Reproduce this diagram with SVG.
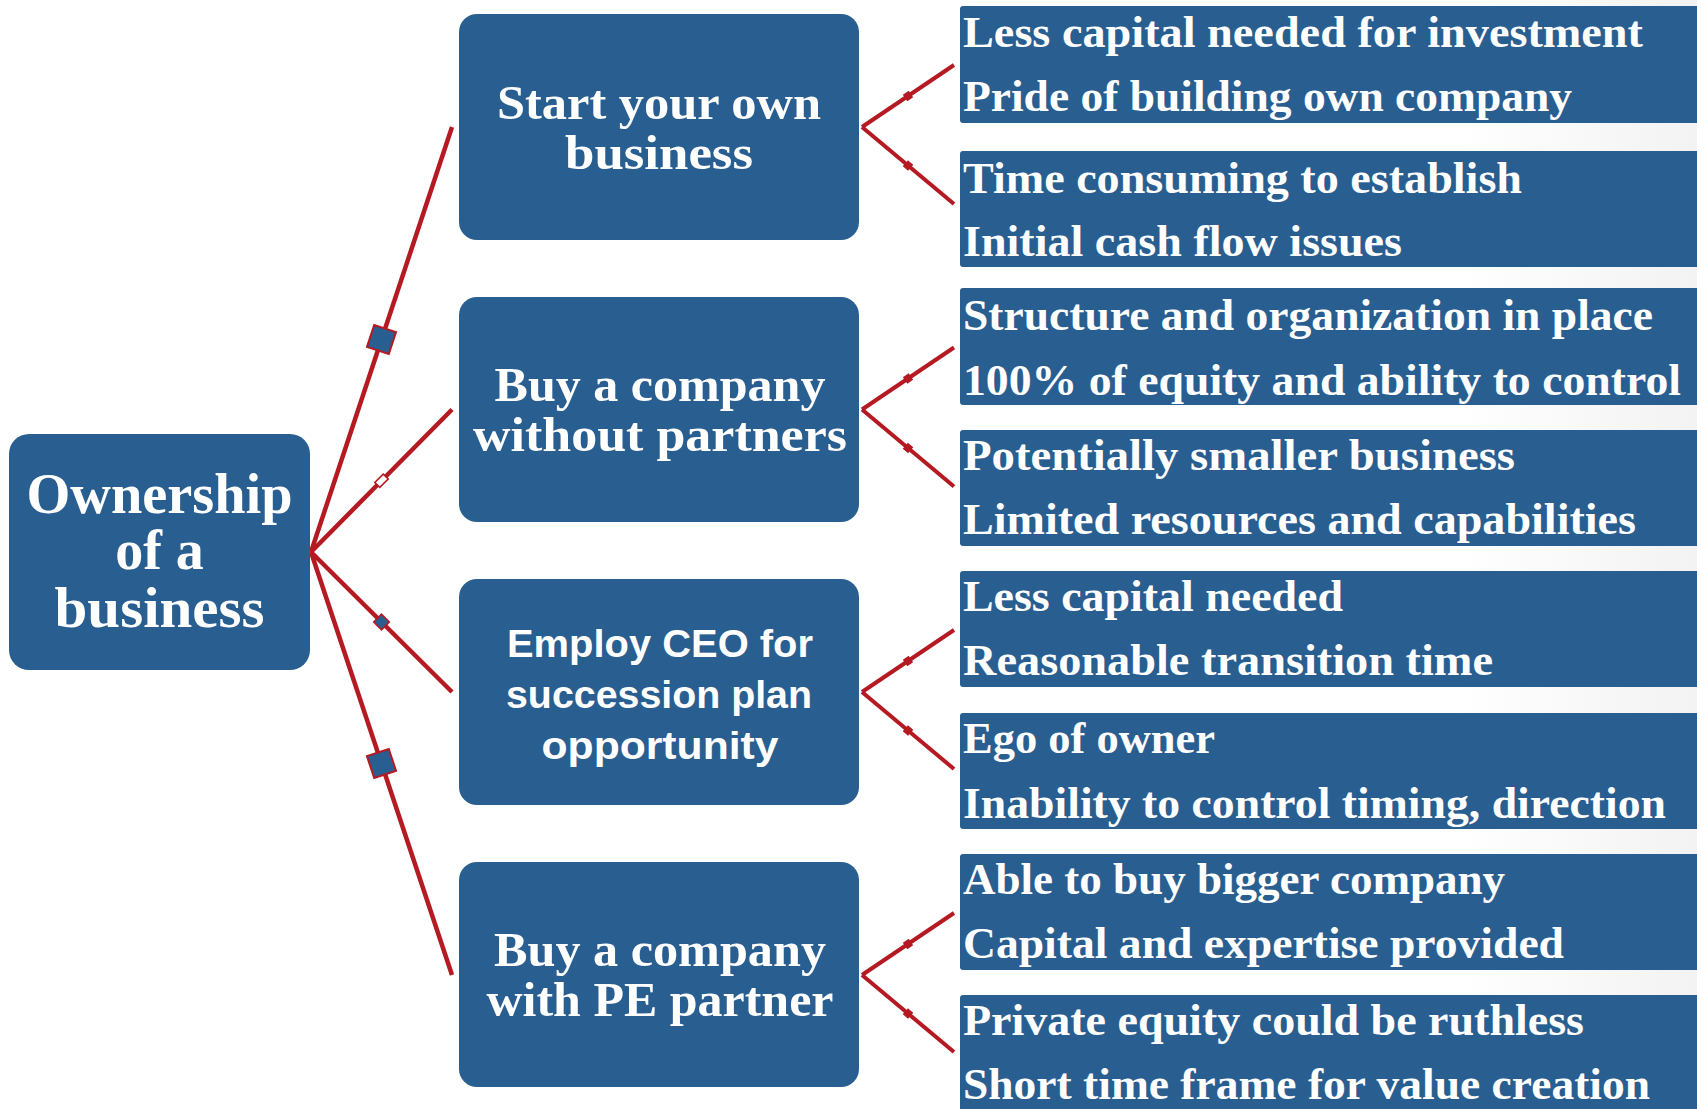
<svg xmlns="http://www.w3.org/2000/svg" width="1697" height="1109" viewBox="0 0 1697 1109">
  <defs>
    <style>
      .box { fill: #295E91; }
      .serif { font-family: "Liberation Serif", "Times New Roman", serif; font-weight: bold; fill: #ffffff; }
      .sans { font-family: "Liberation Sans", Arial, sans-serif; font-weight: bold; fill: #ffffff; }
      .root { font-size: 56px; text-anchor: middle; }
      .mid { font-size: 49px; text-anchor: middle; }
      .midsans { font-size: 38.5px; text-anchor: middle; }
      .leaf { font-size: 45px; }
      .trunk { fill: none; stroke: #B51A22; stroke-width: 4.5; }
      .twig { fill: none; stroke: #B51A22; stroke-width: 4; }
    </style>
    <linearGradient id="edgeShade" x1="0" y1="0" x2="1" y2="0">
      <stop offset="0" stop-color="#e6e6e6" stop-opacity="0"/>
      <stop offset="1" stop-color="#e6e6e6" stop-opacity="1"/>
    </linearGradient>
    <!-- large blue square on a trunk line -->
    <marker id="mSquare" markerUnits="userSpaceOnUse" markerWidth="30" markerHeight="30" refX="15" refY="15" orient="auto">
      <rect x="3.5" y="3.5" width="23" height="23" fill="#295E91" stroke="#B51A22" stroke-width="2"/>
    </marker>
    <!-- small hollow bar -->
    <marker id="mHollow" markerUnits="userSpaceOnUse" markerWidth="20" markerHeight="20" refX="10" refY="10" orient="auto">
      <rect x="4" y="6.5" width="12" height="7" fill="#ffffff" stroke="#B51A22" stroke-width="1.6"/>
    </marker>
    <!-- small blue diamond -->
    <marker id="mDiamond" markerUnits="userSpaceOnUse" markerWidth="20" markerHeight="20" refX="10" refY="10" orient="auto">
      <rect x="4.5" y="4.5" width="11" height="11" fill="#295E91" stroke="#B51A22" stroke-width="1.6"/>
    </marker>
    <!-- small red knot on a twig line -->
    <marker id="mDot" markerUnits="userSpaceOnUse" markerWidth="12" markerHeight="12" refX="6" refY="6" orient="auto">
      <rect x="2.5" y="2" width="7" height="8" fill="#B51A22"/>
    </marker>
  </defs>

  <rect width="1697" height="1109" fill="#ffffff"/>
  <!-- soft shading at the right edge -->
  <rect x="1460" y="0" width="237" height="1109" fill="url(#edgeShade)" opacity="0.5"/>

  <!-- connectors -->
  <g id="connectors">
    <path class="trunk" d="M311,552 L381.5,339.5 L452,127" marker-mid="url(#mSquare)"/>
    <path class="trunk" d="M311,552 L381.5,480.75 L452,409.5" marker-mid="url(#mHollow)"/>
    <path class="trunk" d="M311,552 L381.5,622 L452,692" marker-mid="url(#mDiamond)"/>
    <path class="trunk" d="M311,552 L381.5,763.5 L452,975" marker-mid="url(#mSquare)"/>

    <path class="twig" d="M862,127 L908,96 L954,65" marker-mid="url(#mDot)"/>
    <path class="twig" d="M862,127 L908,165.5 L954,204" marker-mid="url(#mDot)"/>
    <path class="twig" d="M862,409.5 L908,378.5 L954,347.5" marker-mid="url(#mDot)"/>
    <path class="twig" d="M862,409.5 L908,448 L954,486.5" marker-mid="url(#mDot)"/>
    <path class="twig" d="M862,692 L908,661 L954,630" marker-mid="url(#mDot)"/>
    <path class="twig" d="M862,692 L908,730.5 L954,769" marker-mid="url(#mDot)"/>
    <path class="twig" d="M862,975 L908,944 L954,913" marker-mid="url(#mDot)"/>
    <path class="twig" d="M862,975 L908,1013.5 L954,1052" marker-mid="url(#mDot)"/>
  </g>

  <!-- root -->
  <g id="ownership">
    <rect class="box" x="9" y="434" width="301" height="236" rx="20"/>
    <text class="serif root" x="159.5" y="513" textLength="266" lengthAdjust="spacingAndGlyphs">Ownership</text>
    <text class="serif root" x="159.5" y="569">of a</text>
    <text class="serif root" x="159.5" y="627" textLength="210" lengthAdjust="spacingAndGlyphs">business</text>
  </g>

  <!-- options -->
  <g id="start-own">
    <rect class="box" x="459" y="14" width="400" height="226" rx="18"/>
    <text class="serif mid" x="659" y="119" textLength="324" lengthAdjust="spacingAndGlyphs">Start your own</text>
    <text class="serif mid" x="659" y="169" textLength="188" lengthAdjust="spacingAndGlyphs">business</text>
  </g>
  <g id="buy-alone">
    <rect class="box" x="459" y="297" width="400" height="225" rx="18"/>
    <text class="serif mid" x="660" y="401" textLength="331" lengthAdjust="spacingAndGlyphs">Buy a company</text>
    <text class="serif mid" x="660" y="451" textLength="374" lengthAdjust="spacingAndGlyphs">without partners</text>
  </g>
  <g id="employ-ceo">
    <rect class="box" x="459" y="579" width="400" height="226" rx="18"/>
    <text class="sans midsans" x="660" y="657" textLength="306" lengthAdjust="spacingAndGlyphs">Employ CEO for</text>
    <text class="sans midsans" x="659" y="708" textLength="306" lengthAdjust="spacingAndGlyphs">succession plan</text>
    <text class="sans midsans" x="660" y="759" textLength="237" lengthAdjust="spacingAndGlyphs">opportunity</text>
  </g>
  <g id="buy-pe">
    <rect class="box" x="459" y="862" width="400" height="225" rx="18"/>
    <text class="serif mid" x="660" y="966" textLength="332" lengthAdjust="spacingAndGlyphs">Buy a company</text>
    <text class="serif mid" x="660" y="1016" textLength="347" lengthAdjust="spacingAndGlyphs">with PE partner</text>
  </g>

  <!-- pros and cons -->
  <g id="start-pros">
    <rect class="box" x="960" y="6" width="740" height="117" rx="3"/>
    <text class="serif leaf" x="963" y="47" textLength="680" lengthAdjust="spacingAndGlyphs">Less capital needed for investment</text>
    <text class="serif leaf" x="963" y="111" textLength="609" lengthAdjust="spacingAndGlyphs">Pride of building own company</text>
  </g>
  <g id="start-cons">
    <rect class="box" x="960" y="151" width="740" height="116" rx="3"/>
    <text class="serif leaf" x="963" y="193" textLength="559" lengthAdjust="spacingAndGlyphs">Time consuming to establish</text>
    <text class="serif leaf" x="963" y="256" textLength="439" lengthAdjust="spacingAndGlyphs">Initial cash flow issues</text>
  </g>
  <g id="alone-pros">
    <rect class="box" x="960" y="288" width="740" height="117" rx="3"/>
    <text class="serif leaf" x="963" y="330" textLength="690" lengthAdjust="spacingAndGlyphs">Structure and organization in place</text>
    <text class="serif leaf" x="963" y="395" textLength="718" lengthAdjust="spacingAndGlyphs">100% of equity and ability to control</text>
  </g>
  <g id="alone-cons">
    <rect class="box" x="960" y="430" width="740" height="116" rx="3"/>
    <text class="serif leaf" x="963" y="470" textLength="552" lengthAdjust="spacingAndGlyphs">Potentially smaller business</text>
    <text class="serif leaf" x="963" y="534" textLength="673" lengthAdjust="spacingAndGlyphs">Limited resources and capabilities</text>
  </g>
  <g id="ceo-pros">
    <rect class="box" x="960" y="571" width="740" height="116" rx="3"/>
    <text class="serif leaf" x="963" y="611" textLength="380" lengthAdjust="spacingAndGlyphs">Less capital needed</text>
    <text class="serif leaf" x="963" y="675" textLength="530" lengthAdjust="spacingAndGlyphs">Reasonable transition time</text>
  </g>
  <g id="ceo-cons">
    <rect class="box" x="960" y="713" width="740" height="116" rx="3"/>
    <text class="serif leaf" x="963" y="753" textLength="252" lengthAdjust="spacingAndGlyphs">Ego of owner</text>
    <text class="serif leaf" x="963" y="818" textLength="703" lengthAdjust="spacingAndGlyphs">Inability to control timing, direction</text>
  </g>
  <g id="pe-pros">
    <rect class="box" x="960" y="854" width="740" height="116" rx="3"/>
    <text class="serif leaf" x="963" y="894" textLength="542" lengthAdjust="spacingAndGlyphs">Able to buy bigger company</text>
    <text class="serif leaf" x="963" y="958" textLength="601" lengthAdjust="spacingAndGlyphs">Capital and expertise provided</text>
  </g>
  <g id="pe-cons">
    <rect class="box" x="960" y="995" width="740" height="120" rx="3"/>
    <text class="serif leaf" x="963" y="1035" textLength="621" lengthAdjust="spacingAndGlyphs">Private equity could be ruthless</text>
    <text class="serif leaf" x="963" y="1099" textLength="687" lengthAdjust="spacingAndGlyphs">Short time frame for value creation</text>
  </g>
</svg>
